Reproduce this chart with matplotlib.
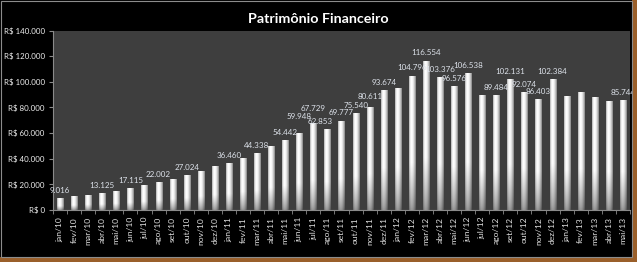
import matplotlib
matplotlib.use('Agg')
import matplotlib.pyplot as plt
from matplotlib.patches import Rectangle
import numpy as np

# meses e patrimonio (R$)
meses = ['jan/10', 'fev/10', 'mar/10', 'abr/10', 'mai/10', 'jun/10', 'jul/10', 'ago/10',
         'set/10', 'out/10', 'nov/10', 'dez/10',
         'jan/11', 'fev/11', 'mar/11', 'abr/11', 'mai/11', 'jun/11', 'jul/11', 'ago/11',
         'set/11', 'out/11', 'nov/11', 'dez/11',
         'jan/12', 'fev/12', 'mar/12', 'abr/12', 'mai/12', 'jun/12', 'jul/12', 'ago/12',
         'set/12', 'out/12', 'nov/12', 'dez/12',
         'jan/13', 'fev/13', 'mar/13', 'abr/13', 'mai/13']
patrimonio = [9016, 10900, 12000, 13125, 14800, 17115, 19200, 22002, 24200, 27024, 30700, 34100,
              36460, 40600, 44338, 50000, 54442, 59948, 67729, 62853, 69777, 75540, 80611, 93674,
              95000, 104796, 116554, 103376, 96576, 106538, 89500, 89484, 102131, 92074, 86403, 102384,
              89300, 91700, 87800, 85300, 85744]
# meses que tem rotulo no grafico original
rotulados = ['jan/10', 'abr/10', 'jun/10', 'ago/10', 'out/10', 'jan/11', 'mar/11', 'mai/11',
             'jun/11', 'jul/11', 'ago/11', 'set/11', 'out/11', 'nov/11', 'dez/11', 'fev/12',
             'mar/12', 'abr/12', 'mai/12', 'jun/12', 'ago/12', 'set/12', 'out/12', 'nov/12',
             'dez/12', 'mai/13']
yticks = [0, 20000, 40000, 60000, 80000, 100000, 120000, 140000]

# ajuste fino dos rotulos (pontos)
nudge = {'jun/11': (0, 6.5), 'jul/11': (0, 5), 'ago/11': (-5, 0), 'nov/11': (0, 2)}


def fmt(v):
    return f'{v:,.0f}'.replace(',', '.')


plt.rcParams['font.family'] = ['Lato', 'DejaVu Sans']

fig = plt.figure(figsize=(6.37, 2.62), dpi=100, facecolor='black')
ax = fig.add_axes([53/637, 1-210/262, (630-53)/637, (210-30.5)/262])
ax.set_facecolor('#3e3e3e')

x = np.arange(len(meses))
bars = ax.bar(x, patrimonio, width=0.43, color='white', zorder=2)

# gradiente tipo cilindro
gx = np.linspace(0, 1, 48)
prof = np.where(gx < 0.35, 1 - 0.35*((0.35-gx)/0.35)**2, 1 - 0.5*((gx-0.35)/0.65)**2)
gy = np.linspace(0, 1, 64)
vert = 0.6 + 0.4*np.clip(gy/0.35, 0, 1)**0.8
img = vert[:, None] * prof[None, :]
for b in bars:
    x0, w, h = b.get_x(), b.get_width(), b.get_height()
    im = ax.imshow(img, cmap='gray', vmin=0, vmax=1, origin='lower', aspect='auto',
                   extent=(x0, x0 + w, 0, h), zorder=3, interpolation='bilinear')
    im.set_clip_path(b)

for i, m in enumerate(meses):
    if m in rotulados:
        dx, dy = nudge.get(m, (0, 0))
        ax.annotate(fmt(patrimonio[i]), (x[i], patrimonio[i]), xytext=(dx, 3.0 + dy),
                    textcoords='offset points', ha='center', va='bottom',
                    fontsize=5.8, color='#dde2ea', zorder=4)

ax.set_xlim(-0.5, len(meses) - 0.5)
ax.set_ylim(0, 140000)
ax.set_yticks(yticks)
ax.set_yticklabels(['R$ ' + fmt(v) for v in yticks])
ax.set_xticks(x)
ax.set_xticklabels(meses, rotation=90)
ax.set_xticks(np.arange(len(meses) + 1) - 0.5, minor=True)
ax.tick_params(axis='x', which='major', length=0, pad=5, labelsize=6.1, labelcolor='#e0e0e0')
ax.tick_params(axis='x', which='minor', length=3, color='#8a8a8a', direction='out')
ax.tick_params(axis='y', length=3, color='#8a8a8a', pad=3, labelsize=5.7, labelcolor='#f0f0f0')
for s in ['top', 'right']:
    ax.spines[s].set_visible(False)
for s in ['left', 'bottom']:
    ax.spines[s].set_color('#8a8a8a')
    ax.spines[s].set_linewidth(0.8)

fig.text(0.5, 1 - 19/262, 'Patrimônio Financeiro', ha='center', va='center',
         fontsize=10.3, fontweight='bold', color='white')

# moldura
fig.patches.append(Rectangle((632/637, 0), 5/637, 1, transform=fig.transFigure,
                             facecolor='#9a5f2a', edgecolor='none'))
fig.patches.append(Rectangle((0, 0), 1, 5/262, transform=fig.transFigure,
                             facecolor='#9a5f2a', edgecolor='none'))
fig.patches.append(Rectangle((0.5/637, 5/262), 631/637, 256.5/262, transform=fig.transFigure,
                             facecolor='none', edgecolor='#8c8c8c', linewidth=0.8))

fig.savefig('out.png', dpi=100, facecolor='black')
